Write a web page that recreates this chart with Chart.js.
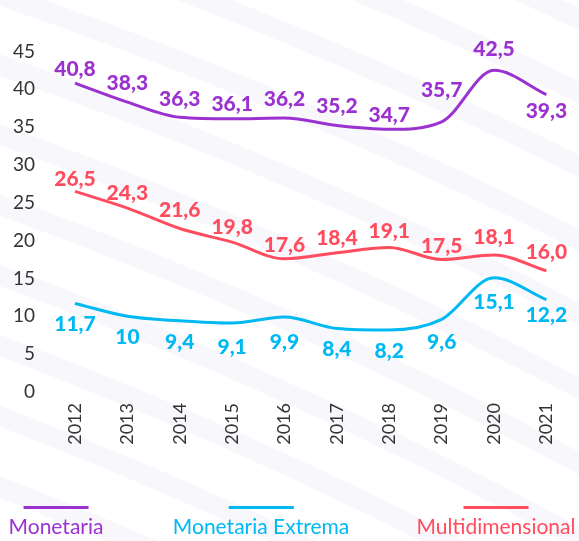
<!DOCTYPE html>
<html lang="es">
<head>
<meta charset="utf-8">
<title>Pobreza 2012-2021</title>
<script src="https://cdn.jsdelivr.net/npm/chart.js@4.4.0/dist/chart.umd.min.js"></script>
<style>
    html, body { margin: 0; padding: 0; background: #fff; }
    #wrap { position: relative; width: 579px; height: 541px; overflow: hidden; }
    #chart { position: absolute; left: 0; top: 0; }
    .legend-item {
        position: absolute; top: 506px; transform: translateX(-50%);
        font-family: 'Lato', sans-serif; font-size: 21px; line-height: 24px;
        white-space: nowrap; text-align: center;
    }
    .legend-item .swatch { display: block; width: 65px; height: 3px; margin: 0 auto 5px; }
</style>
</head>
<body>
<div id="wrap">
    <canvas id="chart" width="579" height="541"></canvas>
    <div class="legend-item" style="left:56px;color:#9b32cf"><span class="swatch" style="background:#9b32cf"></span>Monetaria</div>
    <div class="legend-item" style="left:261px;color:#00b9f2"><span class="swatch" style="background:#00b9f2"></span>Monetaria Extrema</div>
    <div class="legend-item" style="left:496px;color:#ff4c5e"><span class="swatch" style="background:#ff4c5e"></span>Multidimensional</div>
</div>
<script>
// ── Data ────────────────────────────────────────
const years = ['2012', '2013', '2014', '2015', '2016', '2017', '2018', '2019', '2020', '2021'];
const yTicks = [0, 5, 10, 15, 20, 25, 30, 35, 40, 45];

const monetaria = [40.8, 38.3, 36.3, 36.1, 36.2, 35.2, 34.7, 35.7, 42.5, 39.3];
const monetariaText = ['40,8', '38,3', '36,3', '36,1', '36,2', '35,2', '34,7', '35,7', '42,5', '39,3'];

const extrema = [11.7, 10, 9.4, 9.1, 9.9, 8.4, 8.2, 9.6, 15.1, 12.2];
const extremaText = ['11,7', '10', '9,4', '9,1', '9,9', '8,4', '8,2', '9,6', '15,1', '12,2'];

const multidimensional = [26.5, 24.3, 21.6, 19.8, 17.6, 18.4, 19.1, 17.5, 18.1, 16.0];
const multidimensionalText = ['26,5', '24,3', '21,6', '19,8', '17,6', '18,4', '19,1', '17,5', '18,1', '16,0'];

// label nudges (px, relative to each point)
const monetariaDy = [-14, -19, -18, -15, -19, -19, -14, -32, -21, 17];
const extremaDy = [21, 21, 21, 24, 25, 21, 21, 23, 25, 16];
const multidimensionalDy = [-12, -15, -18, -15, -14, -14, -16, -13, -18, -19];

const COLORS = { monetaria: '#9b32cf', extrema: '#00b9f2', multi: '#ff4c5e' };

// ── Plugins ─────────────────────────────────────
// faint curved bands in the background
const bgStripes = {
    id: 'bgStripes',
    beforeDraw(chart) {
        const ctx = chart.ctx;
        ctx.save();
        ctx.fillStyle = '#ffffff';
        ctx.fillRect(0, 0, chart.width, chart.height);
        ctx.strokeStyle = '#f7f7fc';
        ctx.lineWidth = 20;
        for (let r = 3880; r <= 5300; r += 66) {
            ctx.beginPath();
            ctx.arc(-1500, 4350, r, -Math.PI / 2, -0.05);
            ctx.stroke();
        }
        ctx.restore();
    }
};

const valueLabels = {
    id: 'valueLabels',
    afterDatasetsDraw(chart) {
        const ctx = chart.ctx;
        ctx.save();
        ctx.font = "900 21px 'Lato', sans-serif";
        ctx.textAlign = 'center';
        ctx.textBaseline = 'middle';
        chart.data.datasets.forEach((ds, i) => {
            const meta = chart.getDatasetMeta(i);
            ctx.fillStyle = ds.borderColor;
            meta.data.forEach((pt, j) => {
                ctx.fillText(ds.valueText[j], pt.x, pt.y + ds.labelDy[j]);
            });
        });
        ctx.restore();
    }
};

// ── Chart ───────────────────────────────────────
const lineStyle = {
    borderWidth: 3,
    pointRadius: 0,
    fill: false,
    cubicInterpolationMode: 'monotone',
    clip: false
};

new Chart(document.getElementById('chart'), {
    type: 'line',
    data: {
        labels: years,
        datasets: [
            { ...lineStyle, label: 'Monetaria', data: monetaria, borderColor: COLORS.monetaria, valueText: monetariaText, labelDy: monetariaDy },
            { ...lineStyle, label: 'Monetaria Extrema', data: extrema, borderColor: COLORS.extrema, valueText: extremaText, labelDy: extremaDy },
            { ...lineStyle, label: 'Multidimensional', data: multidimensional, borderColor: COLORS.multi, valueText: multidimensionalText, labelDy: multidimensionalDy }
        ]
    },
    options: {
        responsive: false,
        animation: false,
        devicePixelRatio: 1,
        layout: { padding: { top: 18, right: 31, bottom: 0, left: 0 } },
        plugins: { legend: { display: false }, tooltip: { enabled: false } },
        scales: {
            x: {
                offset: false,
                grid: { display: false, drawTicks: false },
                border: { display: false },
                ticks: {
                    minRotation: 90, maxRotation: 90, padding: 11,
                    color: '#333333', font: { family: "'Lato', sans-serif", size: 18 }
                },
                afterFit(scale) { scale.height = 149; }
            },
            y: {
                min: 0, max: 45,
                grid: { display: false, drawTicks: false },
                border: { display: false },
                afterBuildTicks(scale) { scale.ticks = yTicks.map(v => ({ value: v })); },
                ticks: {
                    padding: 40,
                    color: '#333333', font: { family: "'Lato', sans-serif", size: 19 }
                },
                afterFit(scale) { scale.width = 75; }
            }
        }
    },
    plugins: [bgStripes, valueLabels]
});
</script>
</body>
</html>
